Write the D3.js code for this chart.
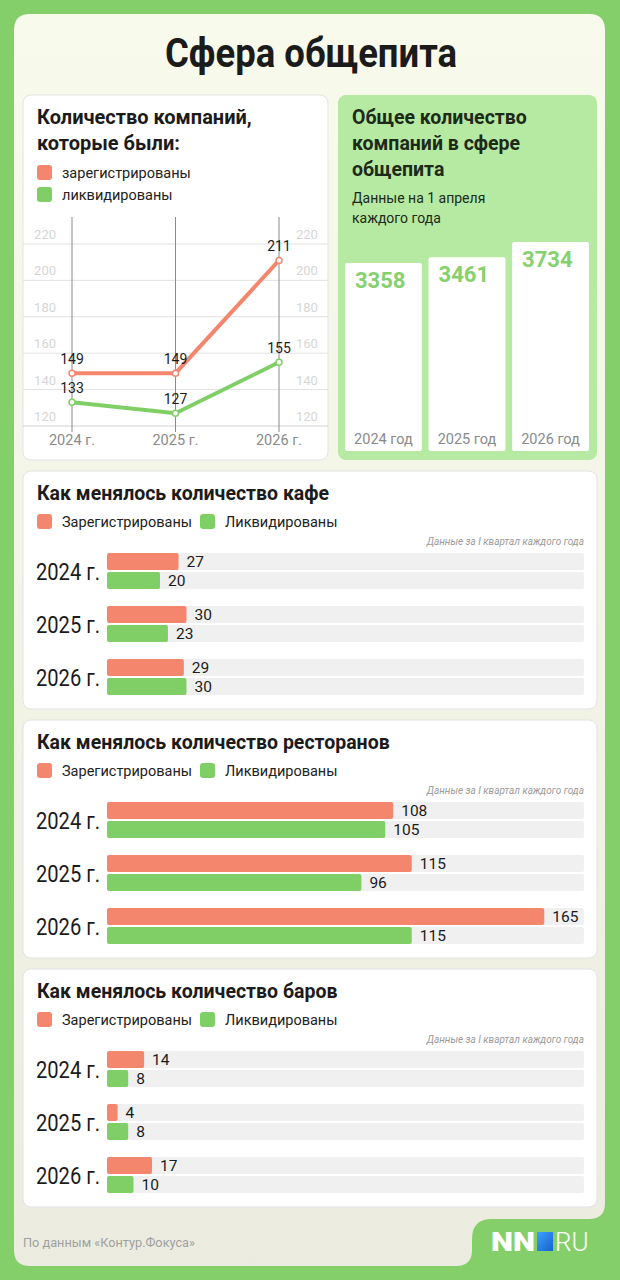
<!DOCTYPE html>
<html>
<head>
<meta charset="utf-8">
<script src="https://cdn.jsdelivr.net/npm/d3@7"></script>
<style>
  body { margin: 0; background: #84cf6a; }
  svg { display: block; font-family: Roboto, "Noto Sans", sans-serif; }
</style>
</head>
<body>
<svg id="vis" width="620" height="1280"></svg>
<script>
// data
const years = ['2024', '2025', '2026'];
const regTotal = [149, 149, 211];
const liqTotal = [133, 127, 155];
const yTicks = [120, 140, 160, 180, 200, 220];
const totalCompanies = [3358, 3461, 3734];
const cafeReg = [27, 30, 29];
const cafeLiq = [20, 23, 30];
const restReg = [108, 115, 165];
const restLiq = [105, 96, 115];
const barsReg = [14, 4, 17];
const barsLiq = [8, 8, 10];

const CORAL = '#f4866e';
const GREEN = '#7fcf66';

const svg = d3.select('#vis');

// background
svg.append('rect').attr('width', 620).attr('height', 1280).attr('fill', '#84cf6a');
const defs = svg.append('defs');
const grad = defs.append('linearGradient').attr('id', 'cream').attr('x1', 0).attr('y1', 0).attr('x2', 0).attr('y2', 1);
grad.append('stop').attr('offset', 0).attr('stop-color', '#f8fbeb');
grad.append('stop').attr('offset', 1).attr('stop-color', '#ebecdf');
const blue = defs.append('linearGradient').attr('id', 'blue').attr('x1', 0).attr('y1', 0).attr('x2', 1).attr('y2', 1);
blue.append('stop').attr('offset', 0).attr('stop-color', '#3fa0ff');
blue.append('stop').attr('offset', 1).attr('stop-color', '#1463c8');

svg.append('path')
  .attr('d', 'M30,14 H589 Q605,14 605,30 V1203 Q605,1219 589,1219 H492 Q472,1219 472,1239 V1250 Q472,1266 456,1266 H30 Q14,1266 14,1250 V30 Q14,14 30,14 Z')
  .attr('fill', 'url(#cream)');

svg.append('text').attr('x', 311).attr('y', 67).attr('text-anchor', 'middle')
  .attr('font-size', 40).attr('font-weight', 700).attr('fill', '#1b1b1b')
  .attr('textLength', 292).attr('lengthAdjust', 'spacingAndGlyphs')
  .text('Сфера общепита');

// ---------- line chart card
const lc = svg.append('g');
lc.append('rect').attr('x', 23).attr('y', 95).attr('width', 305).attr('height', 365)
  .attr('rx', 8).attr('fill', '#fff').attr('stroke', '#e3e3e3');
lc.append('text').attr('x', 37).attr('y', 124).attr('font-size', 20).attr('font-weight', 700).attr('fill', '#1b1b1b')
  .text('Количество компаний,');
lc.append('text').attr('x', 37).attr('y', 150).attr('font-size', 20).attr('font-weight', 700).attr('fill', '#1b1b1b')
  .text('которые были:');
[['зарегистрированы', CORAL, 165], ['ликвидированы', GREEN, 187]].forEach(([t, c, y]) => {
  lc.append('rect').attr('x', 37).attr('y', y).attr('width', 15).attr('height', 15).attr('rx', 3).attr('fill', c);
  lc.append('text').attr('x', 62).attr('y', y + 13).attr('font-size', 14.5).attr('fill', '#222').text(t);
});

const lx = d3.scalePoint().domain(years).range([72, 279]);
const ly = d3.scaleLinear().domain([120, 220]).range([426, 244]);

lc.selectAll('.grid').data(yTicks).join('line')
  .attr('x1', 23).attr('x2', 328)
  .attr('y1', d => ly(d)).attr('y2', d => ly(d))
  .attr('stroke', d => d === 120 ? '#d0d0d0' : '#e2e2e2');
lc.selectAll('.tl').data(yTicks).join('text')
  .attr('x', 56).attr('y', d => ly(d) - 5).attr('text-anchor', 'end')
  .attr('font-size', 13).attr('fill', '#d6d6d6').text(d => d);
lc.selectAll('.tr').data(yTicks).join('text')
  .attr('x', 296).attr('y', d => ly(d) - 5)
  .attr('font-size', 13).attr('fill', '#d6d6d6').text(d => d);
lc.selectAll('.vl').data(years).join('line')
  .attr('x1', d => lx(d)).attr('x2', d => lx(d))
  .attr('y1', 217).attr('y2', 432)
  .attr('stroke', '#8a8a8a').attr('stroke-width', 1);
lc.selectAll('.xl').data(years).join('text')
  .attr('x', d => lx(d)).attr('y', 445).attr('text-anchor', 'middle')
  .attr('font-size', 14.5).attr('fill', '#8a8a8a').text(d => d + ' г.');

const line = d3.line().x((d, i) => lx(years[i])).y(d => ly(d));
[[regTotal, CORAL], [liqTotal, GREEN]].forEach(([vals, c]) => {
  lc.append('path').attr('d', line(vals)).attr('fill', 'none').attr('stroke', c).attr('stroke-width', 4);
  lc.selectAll(null).data(vals).join('circle')
    .attr('cx', (d, i) => lx(years[i])).attr('cy', d => ly(d)).attr('r', 3)
    .attr('fill', '#fff').attr('stroke', c).attr('stroke-width', 1.5);
  lc.selectAll(null).data(vals).join('text')
    .attr('x', (d, i) => lx(years[i])).attr('y', d => ly(d) - 9)
    .attr('text-anchor', 'middle').attr('font-size', 14).attr('fill', '#1b1b1b').text(d => d);
});

// ---------- total companies panel
const tp = svg.append('g');
tp.append('rect').attr('x', 338).attr('y', 95).attr('width', 259).attr('height', 365).attr('rx', 8).attr('fill', '#b6e9a2');
['Общее количество', 'компаний в сфере', 'общепита'].forEach((t, i) => {
  tp.append('text').attr('x', 352).attr('y', 124 + i * 26).attr('font-size', 19.5).attr('font-weight', 700)
    .attr('fill', '#1d2a18').text(t);
});
['Данные на 1 апреля', 'каждого года'].forEach((t, i) => {
  tp.append('text').attr('x', 352).attr('y', 203 + i * 20).attr('font-size', 14).attr('fill', '#1d2a18').text(t);
});
const tx = d3.scaleBand().domain(years).range([345, 589]).paddingInner(0.08);
const th = d3.scaleLinear().domain([0, d3.max(totalCompanies)]).range([0, 209]);
const tbase = 451;
tp.selectAll('.tb').data(totalCompanies).join('rect')
  .attr('x', (d, i) => tx(years[i])).attr('width', tx.bandwidth())
  .attr('y', d => tbase - th(d)).attr('height', d => th(d))
  .attr('rx', 2).attr('fill', '#fff');
tp.selectAll('.tv').data(totalCompanies).join('text')
  .attr('x', (d, i) => tx(years[i]) + 10).attr('y', d => tbase - th(d) + 25)
  .attr('font-size', 22).attr('font-weight', 700).attr('fill', '#86d16f').text(d => d);
tp.selectAll('.ty').data(years).join('text')
  .attr('x', d => tx(d) + tx.bandwidth() / 2).attr('y', 444).attr('text-anchor', 'middle')
  .attr('font-size', 14.5).attr('fill', '#8a8a8a').text(d => d + ' год');

// ---------- horizontal bar panels
const bx = d3.scaleLinear().domain([0, 180]).range([0, 477]);
const BX0 = 107;

function panel(top, title, reg, liq) {
  const g = svg.append('g').attr('transform', `translate(0,${top})`);
  g.append('rect').attr('x', 23).attr('y', 0).attr('width', 574).attr('height', 238)
    .attr('rx', 8).attr('fill', '#fff').attr('stroke', '#e3e3e3');
  g.append('text').attr('x', 37).attr('y', 29).attr('font-size', 19.5).attr('font-weight', 700)
    .attr('fill', '#1b1b1b').text(title);
  [['Зарегистрированы', CORAL, 37], ['Ликвидированы', GREEN, 200]].forEach(([t, c, x]) => {
    g.append('rect').attr('x', x).attr('y', 43).attr('width', 15).attr('height', 15).attr('rx', 3).attr('fill', c);
    g.append('text').attr('x', x + 25).attr('y', 56).attr('font-size', 14.5).attr('fill', '#222').text(t);
  });
  g.append('text').attr('x', 584).attr('y', 74).attr('text-anchor', 'end')
    .attr('font-size', 10).attr('font-style', 'italic').attr('fill', '#9a9a9a')
    .text('Данные за I квартал каждого года');

  const rows = g.selectAll('.row').data(years).join('g')
    .attr('transform', (d, i) => `translate(0,${82 + i * 53})`);
  rows.append('text').attr('x', 36).attr('y', 27).attr('font-size', 23).attr('fill', '#1b1b1b')
    .attr('textLength', 64).attr('lengthAdjust', 'spacingAndGlyphs')
    .text(d => d + ' г.');
  [[reg, CORAL, 0], [liq, GREEN, 19]].forEach(([vals, c, dy]) => {
    rows.append('rect').attr('x', BX0).attr('y', dy).attr('width', bx.range()[1]).attr('height', 17)
      .attr('rx', 2).attr('fill', '#f0f0f0');
    rows.append('rect').attr('x', BX0).attr('y', dy).attr('width', (d, i) => bx(vals[i])).attr('height', 17)
      .attr('rx', 2).attr('fill', c);
    rows.append('text').attr('x', (d, i) => BX0 + bx(vals[i]) + 8).attr('y', dy + 14)
      .attr('font-size', 15.5).attr('fill', '#1b1b1b').text((d, i) => vals[i]);
  });
}
panel(471, 'Как менялось количество кафе', cafeReg, cafeLiq);
panel(720, 'Как менялось количество ресторанов', restReg, restLiq);
panel(969, 'Как менялось количество баров', barsReg, barsLiq);

// footer
svg.append('text').attr('x', 23).attr('y', 1247).attr('font-size', 12.5).attr('fill', '#a0a0a0')
  .attr('textLength', 172).attr('lengthAdjust', 'spacingAndGlyphs')
  .text('По данным «Контур.Фокуса»');
const logo = svg.append('g').attr('transform', 'translate(491,1251)');
logo.append('text').attr('x', 0).attr('y', 0).attr('font-size', 26).attr('font-weight', 900)
  .attr('fill', '#fff').attr('textLength', 44).attr('lengthAdjust', 'spacingAndGlyphs').text('NN');
logo.append('rect').attr('x', 46).attr('y', -19).attr('width', 16).attr('height', 19).attr('fill', 'url(#blue)');
logo.append('text').attr('x', 64).attr('y', 0).attr('font-size', 26).attr('font-weight', 300)
  .attr('fill', '#fff').text('RU');
</script>
</body>
</html>
